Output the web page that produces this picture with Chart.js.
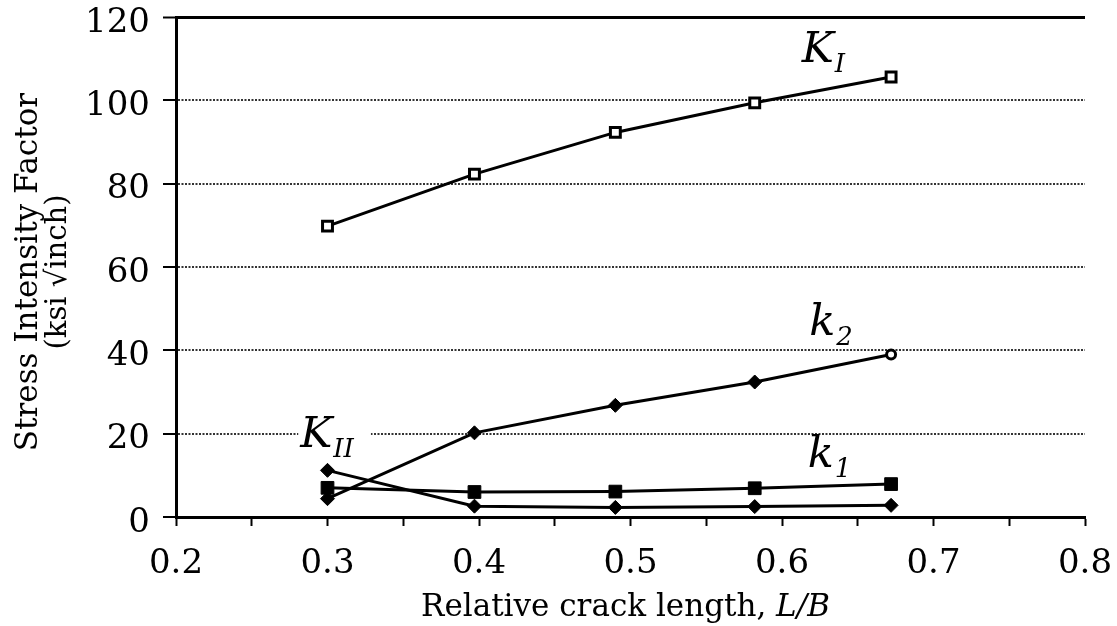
<!DOCTYPE html>
<html>
<head>
<meta charset="utf-8">
<script src="https://cdn.jsdelivr.net/npm/chart.js@4.4.0/dist/chart.umd.min.js"></script>
<style>
  html, body { margin: 0; padding: 0; background: #fff; }
  #wrap { width: 1117px; height: 626px; }
</style>
</head>
<body>
<div id="wrap"><canvas id="chart1"></canvas></div>
<script>
// values
var crackLength = [0.3, 0.397, 0.49, 0.582, 0.672];
var bigKI  = [69.8, 82.3, 92.3, 99.4, 105.6];
var smallK2 = [4.4, 20.2, 26.8, 32.4, 39.0];
var smallK1 = [7.0, 6.0, 6.1, 6.9, 7.9];
var bigKII = [11.2, 2.6, 2.3, 2.5, 2.8];

var xTickLabels = [0.2, 0.3, 0.4, 0.5, 0.6, 0.7, 0.8];
var yTickLabels = [0, 20, 40, 60, 80, 100, 120];

var serif = '"DejaVu Serif", "Liberation Serif", serif';

function pts(ys) {
    return crackLength.map(function (x, i) { return { x: x, y: ys[i] }; });
}

// curve names drawn next to the lines (anchor in data units)
var curveNotes = [
    { main: 'K', sub: 'I',  x: 0.613, y: 109.2, box: false },
    { main: 'K', sub: 'II', x: 0.282, y: 16.8,  box: true },
    { main: 'k', sub: '2',  x: 0.618, y: 43.8,  box: false },
    { main: 'k', sub: '1',  x: 0.617, y: 11.9,  box: false }
];

var notesPlugin = {
    id: 'notes',
    beforeDatasetsDraw: function (chart) {
        var ctx = chart.ctx, xs = chart.scales.x, ys = chart.scales.y;
        ctx.save();
        ctx.textBaseline = 'alphabetic';
        ctx.textAlign = 'left';
        curveNotes.forEach(function (n) {
            var px = xs.getPixelForValue(n.x);
            var py = ys.getPixelForValue(n.y);
            ctx.font = 'italic 43px ' + serif;
            var w1 = ctx.measureText(n.main).width;
            ctx.font = 'italic 26px ' + serif;
            var w2 = ctx.measureText(n.sub).width;
            if (n.box) {
                ctx.fillStyle = '#fff';
                ctx.fillRect(px - 2, py - 36, w1 + w2 + 20, 50);
            }
            ctx.fillStyle = '#000';
            ctx.font = 'italic 43px ' + serif;
            ctx.fillText(n.main, px, py);
            ctx.font = 'italic 26px ' + serif;
            ctx.fillText(n.sub, px + w1 + 1, py + 10);
        });
        ctx.restore();
    },
    afterDraw: function (chart) {
        var ctx = chart.ctx, a = chart.chartArea;
        ctx.save();
        ctx.fillStyle = '#000';
        // y title, two lines
        ctx.translate(0, 272);
        ctx.rotate(-Math.PI / 2);
        ctx.textAlign = 'center';
        ctx.textBaseline = 'alphabetic';
        ctx.font = '31px ' + serif;
        ctx.fillText('Stress Intensity Factor', 0, 37);
        ctx.font = '29px ' + serif;
        ctx.fillText('(ksi \u221Ainch)', 0, 66);
        ctx.restore();

        // x title with italic L/B
        ctx.save();
        ctx.fillStyle = '#000';
        ctx.textBaseline = 'alphabetic';
        ctx.textAlign = 'left';
        var t1 = 'Relative crack length, ', t2 = 'L/B';
        ctx.font = '31px ' + serif;
        var w1 = ctx.measureText(t1).width;
        ctx.font = 'italic 31px ' + serif;
        var w2 = ctx.measureText(t2).width;
        var x0 = (a.left + a.right) / 2 - (w1 + w2) / 2 - 5;
        ctx.font = '31px ' + serif;
        ctx.fillText(t1, x0, 616);
        ctx.font = 'italic 31px ' + serif;
        ctx.fillText(t2, x0 + w1, 616);
        ctx.restore();
    }
};

var ctx1 = document.getElementById('chart1').getContext('2d');
var chart1 = new Chart(ctx1, {
    type: 'line',
    data: {
        datasets: [{
            label: 'KI',
            data: pts(bigKI),
            borderColor: '#000',
            borderWidth: 3,
            pointStyle: 'rect',
            pointRadius: 7,
            pointBorderWidth: 3,
            pointBackgroundColor: '#fff',
            pointBorderColor: '#000'
        }, {
            label: 'k2',
            data: pts(smallK2),
            borderColor: '#000',
            borderWidth: 3,
            pointStyle: ['rectRot', 'rectRot', 'rectRot', 'rectRot', 'circle'],
            pointRadius: [7, 7, 7, 7, 4.5],
            pointBorderWidth: [1, 1, 1, 1, 3],
            pointBackgroundColor: ['#000', '#000', '#000', '#000', '#fff'],
            pointBorderColor: '#000'
        }, {
            label: 'k1',
            data: pts(smallK1),
            borderColor: '#000',
            borderWidth: 3,
            pointStyle: 'rect',
            pointRadius: 9,
            pointBorderWidth: 1,
            pointBackgroundColor: '#000',
            pointBorderColor: '#000'
        }, {
            label: 'KII',
            data: pts(bigKII),
            borderColor: '#000',
            borderWidth: 3,
            pointStyle: 'rectRot',
            pointRadius: 7,
            pointBorderWidth: 1,
            pointBackgroundColor: '#000',
            pointBorderColor: '#000'
        }]
    },
    options: {
        responsive: true,
        maintainAspectRatio: false,
        animation: false,
        layout: { padding: { top: 17, right: 32, left: 0, bottom: 0 } },
        plugins: { legend: { display: false }, tooltip: { enabled: false } },
        scales: {
            x: {
                type: 'linear',
                min: 0.2,
                max: 0.8,
                afterFit: function (s) {
                    s.height = 109;
                    s.paddingLeft = 0;
                    s.paddingRight = 0;
                },
                ticks: {
                    stepSize: 0.05,
                    padding: 18,
                    color: '#000',
                    font: { family: serif, size: 34 },
                    maxRotation: 0,
                    autoSkip: false,
                    callback: function (v) {
                        var r = Math.round(v * 10) / 10;
                        if (Math.abs(v - r) < 1e-6 && xTickLabels.indexOf(r) >= 0) return r.toFixed(1);
                        return '';
                    }
                },
                grid: {
                    drawOnChartArea: false,
                    tickLength: 9,
                    tickWidth: 2,
                    tickColor: '#000'
                },
                border: { color: '#000', width: 3 }
            },
            y: {
                min: 0,
                max: 120,
                afterFit: function (s) {
                    s.width = 176;
                    s.paddingTop = 0;
                    s.paddingBottom = 0;
                },
                ticks: {
                    stepSize: 10,
                    padding: 13,
                    labelOffset: 6,
                    color: '#000',
                    font: { family: serif, size: 34 },
                    callback: function (v) {
                        return yTickLabels.indexOf(v) >= 0 ? String(v) : '';
                    }
                },
                grid: {
                    tickLength: 13,
                    tickWidth: 2,
                    tickColor: '#000',
                    color: function (c) {
                        if (!c.tick) return '#000';
                        var v = c.tick.value;
                        if (v === 120) return '#000';
                        if (v > 0 && v % 20 === 0) return '#333';
                        return 'rgba(0,0,0,0)';
                    },
                    lineWidth: function (c) {
                        return c.tick && c.tick.value === 120 ? 3 : 2;
                    }
                },
                border: {
                    color: '#000',
                    width: 3,
                    dash: function (c) {
                        return c.tick && c.tick.value !== 120 ? [2, 1.5] : [];
                    }
                }
            }
        }
    },
    plugins: [notesPlugin]
});
</script>
</body>
</html>
